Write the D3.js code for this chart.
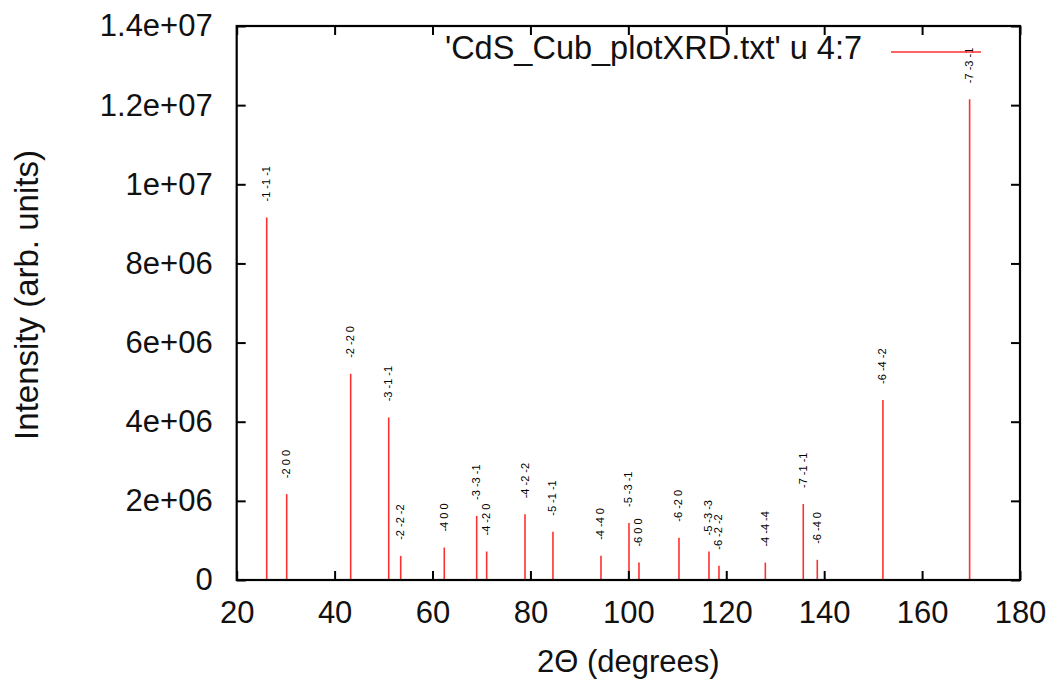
<!DOCTYPE html>
<html>
<head>
<meta charset="utf-8">
<script src="https://cdn.jsdelivr.net/npm/d3@7"></script>
<style>
  html, body { margin: 0; padding: 0; background: #fff; }
  svg { display: block; }
  text { font-family: "Liberation Sans", Arial, Helvetica, sans-serif; }
</style>
</head>
<body>
<svg id="chart" width="1054" height="684"></svg>
<script>
// ---- data ----
const twoTheta = [26.13, 30.21, 43.28, 51.05, 53.50, 62.40, 69.02, 71.06, 78.89, 84.60,
                  94.41, 100.13, 102.17, 110.34, 116.47, 118.51, 127.98, 135.73, 138.59, 152.0, 169.71];
const intensity = [9.16e6, 2.17e6, 5.21e6, 4.11e6, 0.61e6, 0.82e6, 1.62e6, 0.72e6, 1.66e6, 1.22e6,
                   0.61e6, 1.44e6, 0.44e6, 1.07e6, 0.72e6, 0.36e6, 0.44e6, 1.92e6, 0.51e6, 4.55e6, 12.15e6];
const hkl = ["-1 -1 -1", "-2 0 0", "-2 -2 0", "-3 -1 -1", "-2 -2 -2", "-4 0 0", "-3 -3 -1", "-4 -2 0",
             "-4 -2 -2", "-5 -1 -1", "-4 -4 0", "-5 -3 -1", "-6 0 0", "-6 -2 0", "-5 -3 -3", "-6 -2 -2",
             "-4 -4 -4", "-7 -1 -1", "-6 -4 0", "-6 -4 -2", "-7 -3 -1"];
const xTicks = [20, 40, 60, 80, 100, 120, 140, 160, 180];
const yTicks = [0, 2e6, 4e6, 6e6, 8e6, 1e7, 1.2e7, 1.4e7];
const yTickLabels = ["0", "2e+06", "4e+06", "6e+06", "8e+06", "1e+07", "1.2e+07", "1.4e+07"];
const legendLabel = "'CdS_Cub_plotXRD.txt' u 4:7";
const xTitle = "2\u0398 (degrees)";
const yTitle = "Intensity (arb. units)";

// ---- layout ----
const L = 236.7, R = 1020, T = 26, B = 580;
const svg = d3.select("#chart");
const x = d3.scaleLinear().domain([20, 180]).range([L, R]);
const y = d3.scaleLinear().domain([0, 1.4e7]).range([B, T]);
const FS = 31;

svg.append("rect").attr("width", 1054).attr("height", 684).attr("fill", "#fff");

// peaks
const data = twoTheta.map((t, i) => ({ t, v: intensity[i], lab: hkl[i] }));
svg.append("g").selectAll("line").data(data).join("line")
  .attr("x1", d => x(d.t)).attr("x2", d => x(d.t))
  .attr("y1", y(0)).attr("y2", d => y(d.v))
  .attr("stroke", "#ff3030").attr("stroke-width", 1.6);

// peak labels
svg.append("g").selectAll("text").data(data).join("text")
  .attr("transform", d => `translate(${x(d.t) + 3.5},${y(d.v) - 16}) rotate(-90)`)
  .attr("text-anchor", "start")
  .attr("font-size", 11)
  .attr("fill", "#000")
  .text(d => d.lab);

// axes
const gx = svg.append("g").attr("transform", `translate(0,${B})`)
  .call(d3.axisBottom(x).tickValues(xTicks).tickSizeInner(-9).tickSizeOuter(0).tickPadding(21).tickFormat(d3.format("d")));
const gy = svg.append("g").attr("transform", `translate(${L},0)`)
  .call(d3.axisLeft(y).tickValues(yTicks).tickSizeInner(-9).tickSizeOuter(0).tickPadding(24)
    .tickFormat((d, i) => yTickLabels[i]));
const gxt = svg.append("g").attr("transform", `translate(0,${T})`)
  .call(d3.axisTop(x).tickValues(xTicks).tickSizeInner(-9).tickSizeOuter(0).tickFormat(""));
const gyr = svg.append("g").attr("transform", `translate(${R},0)`)
  .call(d3.axisRight(y).tickValues(yTicks).tickSizeInner(-9).tickSizeOuter(0).tickFormat(""));
[gx, gy, gxt, gyr].forEach(g => {
  g.select(".domain").remove();
  g.selectAll(".tick line").attr("stroke", "#000").attr("stroke-width", 2);
  g.selectAll(".tick text").attr("font-size", FS).attr("fill", "#111")
    .attr("font-family", "'Liberation Sans', Arial, sans-serif");
});

// frame
svg.append("rect").attr("x", L).attr("y", T).attr("width", R - L).attr("height", B - T)
  .attr("fill", "none").attr("stroke", "#000").attr("stroke-width", 2.2);

// axis titles
svg.append("text").attr("x", (L + R) / 2).attr("y", 672).attr("text-anchor", "middle")
  .attr("font-size", FS).attr("fill", "#111").text(xTitle);
svg.append("text").attr("transform", `translate(38,${(T + B) / 2 - 8}) rotate(-90)`)
  .attr("text-anchor", "middle").attr("font-size", 33).attr("fill", "#111").text(yTitle);

// legend
const lg = svg.append("g");
lg.append("text").attr("x", 862).attr("y", 59).attr("text-anchor", "end")
  .attr("font-size", 32.5).attr("fill", "#111").text(legendLabel);
lg.append("line").attr("x1", 891).attr("x2", 981).attr("y1", 52).attr("y2", 52)
  .attr("stroke", "#ff3030").attr("stroke-width", 1.6);
</script>
</body>
</html>
